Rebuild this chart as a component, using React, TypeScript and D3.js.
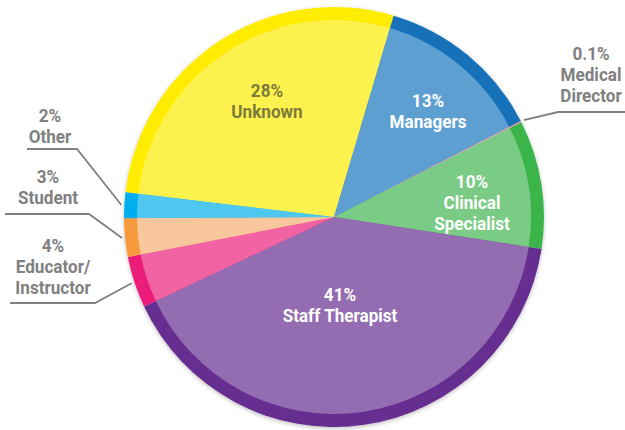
import { useEffect, useRef } from "react";
import * as d3 from "d3";

// Chart data
const categories = ["Unknown", "Managers", "Medical Director", "Clinical Specialist", "Staff Therapist", "Educator/Instructor", "Student", "Other"];
const values = [28, 13, 0.1, 10, 41, 4, 3, 2];
const percentLabels = ["28%", "13%", "0.1%", "10%", "41%", "4%", "3%", "2%"];
const nameLines = [["Unknown"], ["Managers"], ["Medical", "Director"], ["Clinical", "Specialist"], ["Staff Therapist"], ["Educator/", "Instructor"], ["Student"], ["Other"]];
const innerColors = ["#FDF24D", "#5D9FD1", "#F2A7B8", "#79CB85", "#946CB1", "#F263A4", "#F9C79D", "#4FC8F1"];
const rimColors = ["#FFEC00", "#1571B9", "#E58FA5", "#3AB54A", "#662D91", "#EC1F7A", "#F7993E", "#00AEEF"];
const outside = [false, false, true, false, false, true, true, true];

const width = 625;
const height = 430;
const cx = 334;
const cy = 217;
const radius = 210;
const rim = 13;
const startDeg = -83.2;
const squeeze = 0.9; // narrow the type, the original uses a condensed face

// where labels sit (layout only)
const insideNudge: Record<string, [number, number]> = {
    "Unknown": [-67, -120],
    "Managers": [94, -110],
    "Clinical Specialist": [138, -29],
    "Staff Therapist": [6, 84],
};
const outsideLayout: Record<string, { tx: number; ty: number; elbow: [number, number]; lineEnd: number }> = {
    "Medical Director": { tx: 591, ty: 60, elbow: [558, 112], lineEnd: 625 },
    "Other": { tx: 50, ty: 122, elbow: [77, 149], lineEnd: 27 },
    "Student": { tx: 48, ty: 183, elbow: [89, 214], lineEnd: 5 },
    "Educator/Instructor": { tx: 53, ty: 252, elbow: [95, 303], lineEnd: 10 },
};

const font = "Roboto, sans-serif";

// multi-line bold label, squeezed horizontally around its centre
const addLabel = (parent: any, x: number, y: number, lines: string[], color: string) => {
    const t = parent.append("text")
        .attr("transform", `translate(${x},${y}) scale(${squeeze},1)`)
        .attr("text-anchor", "middle")
        .attr("font-family", font)
        .attr("font-weight", "bold")
        .attr("font-size", 19)
        .attr("fill", color);
    lines.forEach((l, i) => {
        t.append("tspan").attr("x", 0).attr("y", i * 21).text(l);
    });
};

const drawChart = (svgEl: SVGSVGElement) => {
    const svg = d3.select(svgEl);
    svg.selectAll("*").remove();

    const data = categories.map((name, i) => ({
        name,
        value: values[i],
        pct: percentLabels[i],
        lines: nameLines[i],
        inner: innerColors[i],
        rimColor: rimColors[i],
        outside: outside[i],
    }));

    const start = (startDeg * Math.PI) / 180;
    const pie = d3.pie<any>()
        .sort(null)
        .value(d => d.value)
        .startAngle(start)
        .endAngle(start + 2 * Math.PI);
    const arcs = pie(data);

    const defs = svg.append("defs");
    const filter = defs.append("filter").attr("id", "shadow").attr("x", "-10%").attr("y", "-10%").attr("width", "120%").attr("height", "120%");
    filter.append("feDropShadow").attr("dx", 0).attr("dy", 1.5).attr("stdDeviation", 2).attr("flood-color", "#000").attr("flood-opacity", 0.25);

    const g = svg.append("g").attr("transform", `translate(${cx},${cy})`);

    const rimArc = d3.arc<any>().innerRadius(0).outerRadius(radius);
    const innerArc = d3.arc<any>().innerRadius(0).outerRadius(radius - rim);

    // outer darker rim (full wedges), then the lighter body on top
    g.append("g").attr("filter", "url(#shadow)")
        .selectAll("path")
        .data(arcs)
        .join("path")
        .attr("d", rimArc)
        .attr("fill", d => d.data.rimColor);

    g.append("g")
        .selectAll("path")
        .data(arcs)
        .join("path")
        .attr("d", innerArc)
        .attr("fill", d => d.data.inner);

    // labels inside slices
    arcs.filter(d => !d.data.outside).forEach(d => {
        const [nx, ny] = insideNudge[d.data.name];
        addLabel(g, nx, ny, [d.data.pct, ...d.data.lines], d.data.name === "Unknown" ? "#7D7A3C" : "#FFFFFF");
    });

    // leader lines + outside labels
    const edge = d3.arc<any>().innerRadius(radius + 3).outerRadius(radius + 3);
    arcs.filter(d => d.data.outside).forEach(d => {
        const lay = outsideLayout[d.data.name];
        const [px, py] = edge.centroid(d);
        svg.append("polyline")
            .attr("points", `${px + cx},${py + cy} ${lay.elbow[0]},${lay.elbow[1]} ${lay.lineEnd},${lay.elbow[1]}`)
            .attr("fill", "none")
            .attr("stroke", "#808080")
            .attr("stroke-width", 1.8);
        addLabel(svg, lay.tx, lay.ty, [d.data.pct, ...d.data.lines], "#808080");
    });
};

export default function App() {
    const ref = useRef<SVGSVGElement>(null);

    useEffect(() => {
        if (ref.current) drawChart(ref.current);
    }, []);

    return (
        <svg
            ref={ref}
            width={width}
            height={height}
            style={{ position: "absolute", left: 0, top: 0, background: "#fff" }}
        />
    );
}
